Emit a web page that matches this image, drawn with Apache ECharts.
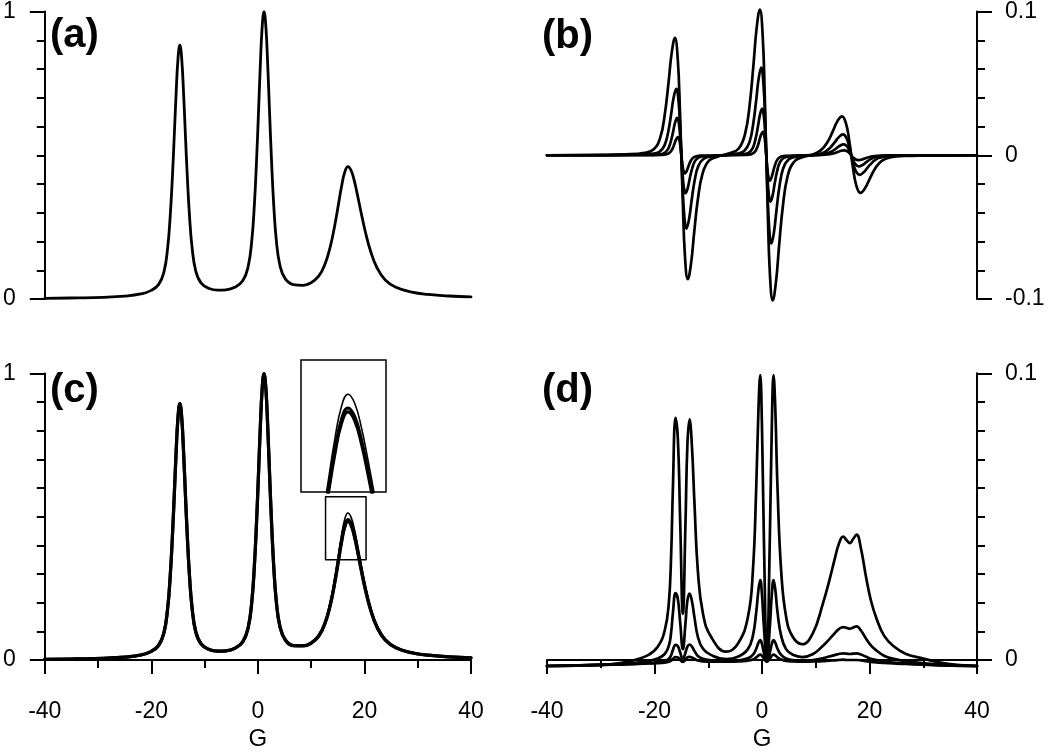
<!DOCTYPE html>
<html><head><meta charset="utf-8">
<script src="https://cdn.jsdelivr.net/npm/echarts@6/dist/echarts.min.js"></script>
<style>html,body{margin:0;padding:0;background:#fff}#c{width:1050px;height:752px}</style>
</head><body><div id="c"></div>
<script>
// Panel (a) / (c) absorption curves (G, normalised intensity)
const aX = [-40,-34,-29,-25,-22,-20,-18.65,-17.65,-16.95,-16.45,-16.05,-15.7,-15.35,-15.0,-14.65,-14.3,-13.95,-13.6,-13.25,-12.85,-12.35,-11.65,-10.65,-9.15,-7.5,-6,-4.35,-2.85,-1.85,-1.15,-0.65,-0.25,0.1,0.45,0.8,1.15,1.5,1.85,2.2,2.55,2.95,3.45,4.15,5.15,6.65,8.5,9.9,11.4,12.6,13.6,14.4,15.1,15.7,16.3,16.9,17.5,18.1,18.7,19.4,20.2,21.2,22.4,23.9,25.9,28.9,31.9,35.9,40];
const aY = [0.0025,0.0038,0.0059,0.0100,0.0175,0.0300,0.0499,0.0927,0.1758,0.2908,0.4245,0.5668,0.7149,0.8350,0.8829,0.8355,0.7157,0.5680,0.4261,0.2928,0.1784,0.0964,0.0552,0.0365,0.0307,0.0318,0.0405,0.0632,0.1108,0.2019,0.3316,0.4824,0.6431,0.8103,0.9458,0.9998,0.9462,0.8113,0.6446,0.4846,0.3343,0.2055,0.1155,0.0698,0.0504,0.0477,0.0554,0.0793,0.1216,0.1833,0.2534,0.3270,0.3910,0.4411,0.4604,0.4468,0.4107,0.3610,0.2981,0.2312,0.1634,0.1070,0.0664,0.0406,0.0240,0.0160,0.0104,0.0073];
const cY1 = [0.0025,0.0038,0.0059,0.0100,0.0175,0.0304,0.0506,0.0940,0.1782,0.2948,0.4303,0.5746,0.7247,0.8464,0.8950,0.8469,0.7255,0.5758,0.4319,0.2968,0.1808,0.0977,0.0559,0.0365,0.0307,0.0318,0.0405,0.0632,0.1108,0.2019,0.3316,0.4824,0.6431,0.8103,0.9458,0.9998,0.9462,0.8113,0.6446,0.4846,0.3343,0.2055,0.1155,0.0698,0.0504,0.0492,0.0575,0.0828,0.1273,0.1922,0.2659,0.3432,0.4104,0.4631,0.4834,0.4691,0.4312,0.3790,0.3130,0.2427,0.1715,0.1123,0.0696,0.0425,0.0251,0.0167,0.0109,0.0076];
const cY2 = [0.0025,0.0038,0.0059,0.0100,0.0175,0.0304,0.0506,0.0940,0.1782,0.2948,0.4303,0.5746,0.7247,0.8464,0.8950,0.8469,0.7255,0.5758,0.4319,0.2968,0.1808,0.0977,0.0559,0.0365,0.0307,0.0318,0.0405,0.0632,0.1108,0.2019,0.3316,0.4824,0.6431,0.8103,0.9458,0.9998,0.9462,0.8113,0.6446,0.4846,0.3343,0.2055,0.1155,0.0698,0.0504,0.0497,0.0582,0.0838,0.1290,0.1948,0.2695,0.3479,0.4161,0.4695,0.4900,0.4756,0.4371,0.3842,0.3173,0.2460,0.1738,0.1138,0.0706,0.0431,0.0255,0.0170,0.0110,0.0077];
const cY3 = [0.0025,0.0038,0.0059,0.0100,0.0175,0.0304,0.0506,0.0940,0.1782,0.2948,0.4303,0.5746,0.7247,0.8464,0.8950,0.8469,0.7255,0.5758,0.4319,0.2968,0.1808,0.0977,0.0559,0.0365,0.0307,0.0318,0.0405,0.0632,0.1108,0.2019,0.3316,0.4824,0.6431,0.8103,0.9458,0.9998,0.9462,0.8113,0.6446,0.4846,0.3343,0.2055,0.1155,0.0698,0.0504,0.0512,0.0603,0.0873,0.1347,0.2037,0.2819,0.3641,0.4355,0.4914,0.5130,0.4979,0.4576,0.4022,0.3321,0.2575,0.1819,0.1190,0.0738,0.0451,0.0266,0.0177,0.0115,0.0080];
// zoom box drawn in (c)
const boxX = [12.7,20.3,20.3,12.7,12.7];
const boxY = [0.35,0.35,0.57,0.57,0.35];

// Panel (b) first-derivative curves
const b1X = [-40,-30,-25.5,-21.84,-20.13,-18.93,-18.08,-17.39,-16.8,-16.2,-15.68,-15.26,-14.74,-14.32,-13.8,-13.2,-12.61,-11.92,-11.07,-9.87,-8.16,-6.04,-4.33,-3.13,-2.28,-1.59,-1.0,-0.4,0.12,0.54,1.06,1.48,2.0,2.6,3.19,3.88,4.73,5.93,7.64,9.19,10.92,12.15,13.14,14.01,14.87,15.61,16.23,16.97,17.59,18.33,19.19,20.06,21.05,22.28,24.01,26.48,30,40];
const b1Y = [0,0.0002,0.0006,0.0017,0.0042,0.0122,0.0286,0.0505,0.0712,0.0816,0.0673,0.0304,-0.0321,-0.0711,-0.0862,-0.0752,-0.0534,-0.0303,-0.0129,-0.0038,-0.0008,0.0013,0.0047,0.0152,0.0356,0.0628,0.0884,0.1014,0.0837,0.0377,-0.0376,-0.0833,-0.101,-0.0881,-0.0625,-0.0355,-0.0151,-0.0047,-0.0012,0.0002,0.0034,0.009,0.0164,0.0236,0.0271,0.0224,0.0101,-0.0097,-0.0216,-0.0262,-0.0228,-0.0162,-0.0092,-0.0039,-0.0014,-0.0005,-0.0002,0];
const b2X = [-40,-30,-24,-20.44,-19.08,-18.13,-17.45,-16.9,-16.43,-15.95,-15.54,-15.2,-14.8,-14.46,-14.05,-13.57,-13.1,-12.55,-11.87,-10.92,-9.56,-4.64,-3.28,-2.33,-1.65,-1.1,-0.63,-0.15,0.26,0.6,1.0,1.34,1.75,2.23,2.7,3.25,3.93,4.88,6.24,10.0,11.54,12.64,13.52,14.29,15.06,15.72,16.27,16.93,17.48,18.14,18.91,19.68,20.56,21.66,23.2,25.4,30,40];
const b2Y = [0,0.0001,0.0004,0.001,0.0024,0.0069,0.0162,0.0286,0.0403,0.0462,0.0381,0.0172,-0.019,-0.0421,-0.051,-0.0445,-0.0316,-0.0179,-0.0076,-0.0026,-0.0009,0.0011,0.0031,0.0091,0.0214,0.0377,0.0531,0.0609,0.0502,0.0227,-0.0228,-0.0507,-0.0614,-0.0535,-0.038,-0.0216,-0.0092,-0.0032,-0.0011,0.0004,0.002,0.0051,0.009,0.0126,0.0145,0.012,0.0054,-0.0051,-0.0112,-0.0136,-0.0119,-0.0084,-0.0048,-0.002,-0.0007,-0.0003,-0.0001,0];
const b3X = [-40,-30,-23,-19.44,-18.33,-17.55,-17.0,-16.55,-16.17,-15.78,-15.44,-15.17,-14.83,-14.56,-14.22,-13.83,-13.45,-13.0,-12.45,-11.67,-10.56,-3.64,-2.53,-1.75,-1.2,-0.75,-0.37,0.02,0.36,0.63,0.97,1.24,1.58,1.97,2.35,2.8,3.35,4.13,5.24,10.6,12.0,13.0,13.8,14.5,15.2,15.8,16.3,16.9,17.4,18.0,18.7,19.4,20.2,21.2,22.6,24.6,30,40];
const b3Y = [0,0,0.0002,0.0005,0.0013,0.0039,0.0091,0.0161,0.0227,0.026,0.0215,0.0097,-0.0098,-0.0218,-0.0264,-0.023,-0.0163,-0.0093,-0.0039,-0.0014,-0.0006,0.0007,0.0017,0.0048,0.0114,0.0201,0.0283,0.0324,0.0267,0.0121,-0.012,-0.0266,-0.0322,-0.0281,-0.0199,-0.0113,-0.0048,-0.0017,-0.0007,0.0003,0.0011,0.0027,0.0047,0.0066,0.0076,0.0063,0.0028,-0.0029,-0.0064,-0.0078,-0.0068,-0.0048,-0.0027,-0.0012,-0.0004,-0.0002,-0.0001,0];
const b4X = [-40,-30,-22,-18.72,-17.79,-17.14,-16.67,-16.3,-15.98,-15.65,-15.37,-15.14,-14.86,-14.63,-14.35,-14.02,-13.7,-13.33,-12.86,-12.21,-11.28,-2.92,-1.99,-1.34,-0.87,-0.5,-0.18,0.15,0.43,0.66,0.94,1.17,1.45,1.78,2.1,2.47,2.94,3.59,4.52,10.9,12.23,13.18,13.94,14.6,15.27,15.84,16.32,16.88,17.36,17.93,18.6,19.26,20.02,20.97,22.3,24.2,30,40];
const b4Y = [0,0,0.0001,0.0003,0.0007,0.0019,0.0044,0.0078,0.011,0.0126,0.0104,0.0047,-0.0047,-0.0104,-0.0126,-0.011,-0.0078,-0.0044,-0.0019,-0.0007,-0.0003,0.0003,0.0008,0.0024,0.0057,0.0101,0.0142,0.0163,0.0134,0.0061,-0.0066,-0.0146,-0.0177,-0.0154,-0.011,-0.0062,-0.0026,-0.0009,-0.0004,0.0002,0.0005,0.0012,0.0021,0.003,0.0034,0.0028,0.0013,-0.0013,-0.0028,-0.0034,-0.003,-0.0021,-0.0012,-0.0005,-0.0002,-0.0001,0,0];

// Panel (d) curves (shared field positions)
const dX = [-40,-30,-25,-21.2,-19.4,-18.1,-17.35,-16.9,-16.58,-16.08,-15.65,-15.22,-14.72,-14.23,-13.88,-13.48,-13.05,-12.55,-11.93,-10.98,-9.45,-6.66,-4.49,-2.63,-1.7,-1.08,-0.64,-0.33,-0.02,0.35,0.91,1.46,1.84,2.15,2.46,2.89,3.57,4.5,5.74,7.5,9.5,11.3,12.5,13.5,14.3,15.1,15.75,16.35,16.95,17.6,18.4,19.4,20.3,21.3,22.7,24.5,26.7,30,34,40];
const d1Y = [-0.0021,-0.0017,-0.0006,0.0017,0.0046,0.0103,0.0195,0.0368,0.0598,0.0845,0.077,0.0483,0.0161,0.0483,0.075,0.0839,0.075,0.054,0.031,0.0161,0.008,0.0029,0.0057,0.0149,0.031,0.0598,0.0885,0.0994,0.0828,0.0425,0.0006,0.0425,0.0828,0.0994,0.0885,0.0598,0.031,0.0149,0.008,0.0055,0.0095,0.0195,0.0275,0.035,0.0405,0.043,0.0418,0.0408,0.0422,0.0437,0.039,0.0285,0.0205,0.0145,0.0085,0.0048,0.0022,0.0005,-0.0012,-0.0021];
const d2Y = [-0.0021,-0.0017,-0.0012,-0.0004,0.0005,0.0021,0.0048,0.0097,0.0163,0.0233,0.0212,0.0130,0.0038,0.0130,0.0207,0.0232,0.0207,0.0147,0.0081,0.0039,0.0017,0.0003,0.0011,0.0038,0.0084,0.0166,0.0248,0.0279,0.0232,0.0117,-0.0003,0.0117,0.0232,0.0279,0.0248,0.0166,0.0084,0.0037,0.0018,0.0010,0.0021,0.0049,0.0072,0.0093,0.0108,0.0115,0.0112,0.0109,0.0113,0.0117,0.0103,0.0073,0.0050,0.0033,0.0015,0.0004,-0.0004,-0.0011,-0.0017,-0.0021];
const d3Y = [-0.0021,-0.0017,-0.0014,-0.0011,-0.0008,-0.0003,0.0004,0.0017,0.0035,0.0053,0.0048,0.0026,0.0002,0.0026,0.0047,0.0054,0.0047,0.0031,0.0014,0.0004,-0.0001,-0.0004,-0.0002,0.0006,0.0018,0.0039,0.0061,0.0069,0.0057,0.0026,-0.0005,0.0026,0.0057,0.0069,0.0061,0.0039,0.0018,0.0005,0.0000,-0.0003,0.0000,0.0006,0.0012,0.0017,0.0021,0.0023,0.0022,0.0021,0.0022,0.0023,0.0019,0.0011,0.0004,0.0000,-0.0006,-0.0009,-0.0012,-0.0015,-0.0019,-0.0021];
const d4Y = [-0.0021,-0.0017,-0.0015,-0.0012,-0.0011,-0.0009,-0.0006,-0.0002,0.0004,0.0010,0.0009,0.0001,-0.0007,0.0001,0.0009,0.0011,0.0009,0.0004,-0.0002,-0.0005,-0.0006,-0.0006,-0.0005,-0.0002,0.0002,0.0009,0.0016,0.0019,0.0015,0.0005,-0.0006,0.0005,0.0015,0.0019,0.0016,0.0009,0.0002,-0.0003,-0.0005,-0.0006,-0.0005,-0.0004,-0.0002,-0.0001,0.0000,0.0001,0.0000,0.0000,0.0000,0.0000,-0.0001,-0.0004,-0.0007,-0.0008,-0.0010,-0.0012,-0.0014,-0.0016,-0.0019,-0.0021];

const FONT = '"Liberation Sans", Arial, sans-serif';
const zip = (xs, ys) => xs.map((x, i) => [x, ys[i]]);
const black = '#000';

function line(xs, ys, xi, w, extra) {
  return Object.assign({
    type: 'line', xAxisIndex: xi, yAxisIndex: xi, data: zip(xs, ys),
    showSymbol: false, smooth: 0.45, clip: false,
    lineStyle: { color: black, width: w, join: 'round', cap: 'round' }, itemStyle: { color: black },
    silent: true, z: 3
  }, extra || {});
}

const hiddenX = (gi, min, max) => ({ gridIndex: gi, type: 'value', min, max, show: false });
const bottomX = (gi) => ({
  gridIndex: gi, type: 'value', min: -40, max: 40, interval: 20, offset: 15,
  axisLine: { show: true, lineStyle: { color: black, width: 2 } },
  axisTick: { show: true, length: 14, lineStyle: { color: black, width: 2 } },
  minorTick: { show: true, splitNumber: 2, length: 8, lineStyle: { color: black, width: 2 } },
  splitLine: { show: false }, minorSplitLine: { show: false },
  axisLabel: { fontSize: 23, color: black, margin: 25, fontFamily: FONT },
  name: 'G', nameLocation: 'middle', nameGap: 52,
  nameTextStyle: { fontSize: 24, color: black, fontFamily: FONT }
});
const sideY = (gi, pos, min, max, interval, split, margin) => ({
  gridIndex: gi, type: 'value', position: pos, min, max, interval,
  axisLine: { show: true, onZero: false, lineStyle: { color: black, width: 2 } },
  axisTick: { show: true, length: 15, lineStyle: { color: black, width: 2 } },
  minorTick: { show: true, splitNumber: split, length: 8, lineStyle: { color: black, width: 2 } },
  splitLine: { show: false }, minorSplitLine: { show: false },
  axisLabel: { fontSize: 23, color: black, margin: margin, fontFamily: FONT,
    formatter: v => String(Math.round(v * 1000) / 1000) }
});

const chart = echarts.init(document.getElementById('c'), null, { renderer: 'canvas' });
chart.setOption({
  backgroundColor: '#fff',
  animation: false,
  grid: [
    { left: 41, top: 9, width: 430, height: 290 },
    { left: 547, top: 9, width: 430, height: 290 },
    { left: 41, top: 373.5, width: 430, height: 290 },
    { left: 547, top: 373.3, width: 430, height: 290 },
    { left: 301, top: 360, width: 85, height: 132, show: true, borderColor: black, borderWidth: 1.5, backgroundColor: 'rgba(0,0,0,0)' }
  ],
  xAxis: [
    hiddenX(0, -40, 40), hiddenX(1, -40, 40), bottomX(2), bottomX(3), hiddenX(4, 12.7, 20.3)
  ],
  yAxis: [
    sideY(0, 'left', 0, 1, 1, 10, 29),
    sideY(1, 'right', -0.1, 0.1, 0.1, 5, 28),
    sideY(2, 'left', 0, 1, 1, 10, 29),
    sideY(3, 'right', 0, 0.1, 0.1, 10, 28),
    { gridIndex: 4, type: 'value', min: 0.35, max: 0.57, show: false }
  ],
  graphic: [
    { type: 'text', left: 50, top: 16, style: { text: '(a)', font: 'bold 40px ' + FONT, fill: black } },
    { type: 'text', left: 542, top: 17, style: { text: '(b)', font: 'bold 40px ' + FONT, fill: black } },
    { type: 'text', left: 50, top: 371, style: { text: '(c)', font: 'bold 40px ' + FONT, fill: black } },
    { type: 'text', left: 542, top: 371, style: { text: '(d)', font: 'bold 40px ' + FONT, fill: black } }
  ],
  series: [
    line(aX, aY, 0, 2.8),
    line(b1X, b1Y, 1, 2.7), line(b2X, b2Y, 1, 2.7), line(b3X, b3Y, 1, 2.7), line(b4X, b4Y, 1, 2.7),
    line(aX, cY1, 2, 3.2), line(aX, cY2, 2, 3.2), line(aX, cY3, 2, 1.6),
    line(boxX, boxY, 2, 1.5, { smooth: false }),
    line(dX, d1Y, 3, 2.7), line(dX, d2Y, 3, 2.7), line(dX, d3Y, 3, 2.7), line(dX, d4Y, 3, 2.7),
    line(aX, cY1, 4, 3.2, { clip: true }), line(aX, cY2, 4, 3.2, { clip: true }), line(aX, cY3, 4, 1.6, { clip: true })
  ]
});
</script>
</body></html>
